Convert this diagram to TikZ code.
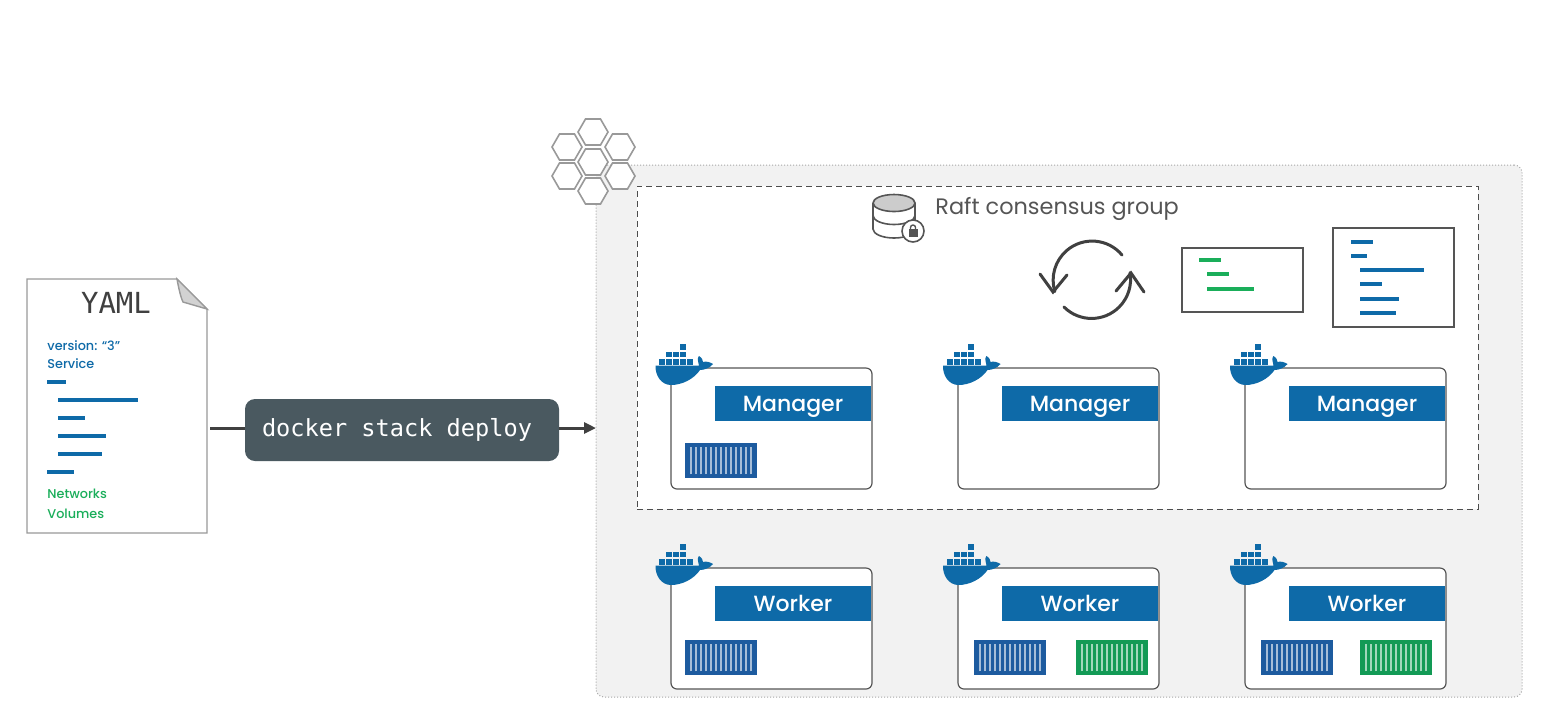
\documentclass[tikz,border=0pt]{standalone}
\usepackage{fontspec}
\setmainfont{Poppins}
\setmonofont{DejaVu Sans Mono}
\newfontfamily\medfont{Poppins Medium}
\usepackage{xcolor}
\usetikzlibrary{arrows.meta, calc, positioning, shapes.geometric}

\definecolor{dockerblue}{HTML}{0E6AA8}
\definecolor{contblue}{HTML}{1D5B9F}
\definecolor{contgreen}{HTML}{129A55}
\definecolor{notegreen}{HTML}{1AAE5A}
\definecolor{slate}{HTML}{4A5960}
\definecolor{inkgray}{HTML}{555555}

\tikzset{
    hostbox/.style = {draw=inkgray, line width=0.6pt, fill=white, rounded corners=3pt,
                      minimum width=100.5pt, minimum height=60.5pt, inner sep=0pt, outer sep=0pt},
    banner/.style = {fill=dockerblue, text=white, font=\medfont\fontsize{11}{13}\selectfont,
                     text height=7.5pt, text depth=0pt,
                     minimum width=78pt, minimum height=17.5pt, inner sep=0pt, outer sep=0pt},
    crate/.style = {fill=#1, minimum width=36pt, minimum height=17.5pt, inner sep=0pt, outer sep=0pt,
                    path picture={
                        \foreach \i in {0,...,12}
                        \draw [#1!40!white, line width=0.85pt]
                        ($(path picture bounding box.south west)+(3pt+2.5pt*\i,1.8pt)$) --
                        ($(path picture bounding box.north west)+(3pt+2.5pt*\i,-1.8pt)$);
                    }},
    notebox/.style = {draw=inkgray, line width=0.6pt, fill=white, inner sep=0pt, outer sep=0pt},
    hive/.style = {regular polygon, regular polygon sides=6, draw=gray!80, line width=0.8pt, fill=white,
                   minimum size=15pt, inner sep=0pt, outer sep=0pt},
    codeline/.style = {line width=1.7pt, #1},
    doctext/.style = {anchor=base west, inner sep=0pt, font=\medfont\fontsize{6.4}{7}\selectfont, text=#1},
    whale/.pic = {
        \fill [dockerblue] (-0.5,0.5) -- (43,0.5) .. controls (42,-4) and (41,-7) .. (43,-9)
            .. controls (46,-7) and (47,-5) .. (47,-3) .. controls (50,-4) and (54,-3) .. (57,-1)
            .. controls (54,3) and (48,5) .. (44,5) .. controls (38,14) and (26,20) .. (15,20)
            .. controls (5,20) and (-1,10) .. (-0.5,0.5) -- cycle;
        \foreach \bx/\by in {3/-6,10/-6,17/-6,24/-6,31/-6,10/-13.5,17/-13.5,24/-13.5,24/-21}
        \fill [dockerblue] (\bx,\by) rectangle ++(6,5.6);
    },
}

\begin{document}
\begin{tikzpicture}[x=0.5pt, y=-0.5pt,
    node distance = 39.5pt and 43pt,
    every node/.append style = {align=center},
                            ]
    \useasboundingbox (0,0) rectangle (1551,725);

    % swarm panel
    \node (cluster) [anchor=north west, draw=gray!70, densely dotted, line width=0.5pt, fill=black!5,
                     rounded corners=4pt, minimum width=463pt, minimum height=266pt, inner sep=0pt,
                     outer sep=0pt] at (596,165) {};
    \node (raft) [anchor=north west, draw=black!70, densely dashed, line width=0.5pt, fill=white,
                  minimum width=420.5pt, minimum height=161.5pt, inner sep=0pt, outer sep=0pt] at (637,186) {};

    % hexagons
    \node (h1) [hive] at (593,132) {};
    \node (h2) [hive] at (567,147) {};
    \node (h3) [hive] at (620,147) {};
    \node (h4) [hive] at (567,176) {};
    \node (h5) [hive] at (620,176) {};
    \node (h6) [hive] at (593,191) {};
    \node (h7) [hive] at (593,162) {};

    % yaml page
    \node (yaml) [anchor=north west, minimum width=90pt, minimum height=127pt, inner sep=0pt,
                  outer sep=1.5pt] at (24,277.5) {};
    \draw [gray!80, line width=0.7pt, fill=white] (27,279) -- (177,279) -- (207,309) -- (207,533) -- (27,533) -- cycle;
    \draw [gray!80, line width=0.7pt, fill=gray!35] (177,279) .. controls (179,290) and (181,298) .. (183,302) -- (207,309) -- cycle;
    \node (yamltitle) [text=black!75, font=\ttfamily\fontsize{14.5}{16}\selectfont, inner sep=0pt] at (116,303) {YAML};
    \node (version) [doctext=dockerblue] at (47,350) {version: “3”};
    \node (service) [doctext=dockerblue] at (47,368) {Service};
    \node (networks) [doctext=notegreen] at (47,498) {Networks};
    \node (volumes) [doctext=notegreen] at (47,518) {Volumes};
    \draw [codeline=dockerblue] (47,382) -- (66,382);
    \draw [codeline=dockerblue] (58,400) -- (138,400);
    \draw [codeline=dockerblue] (58,418) -- (85,418);
    \draw [codeline=dockerblue] (58,436) -- (106,436);
    \draw [codeline=dockerblue] (58,454) -- (102,454);
    \draw [codeline=dockerblue] (47,472) -- (74,472);

    % deploy command
    \node (deploy) [anchor=north west, fill=slate, rounded corners=5pt, text=white, minimum width=157pt,
                    minimum height=31pt, inner sep=0pt, outer sep=0pt,
                    font=\ttfamily\fontsize{11.8}{14}\selectfont] at (245,399) {docker stack deploy\hspace{5pt}};
    \draw [line width=1.5pt, draw=black!75] ([yshift=1pt]yaml.east |- deploy.west) -- ([yshift=1pt]deploy.west);
    \draw [line width=1.5pt, draw=black!75, -{Triangle[length=6pt, width=5.5pt]}] ([yshift=1pt]deploy.east) -- ([yshift=1pt]deploy.east -| cluster.west);

    % raft heading
    \fill [gray!40] (894,203) ellipse [x radius=21, y radius=8.5];
    \draw [inkgray, line width=0.8pt] (894,203) ellipse [x radius=21, y radius=8.5];
    \draw [inkgray, line width=0.8pt] (873,203) -- (873,229) arc [start angle=180, end angle=0, x radius=21, y radius=9] -- (915,203);
    \draw [inkgray, line width=0.8pt] (873,215.5) arc [start angle=180, end angle=0, x radius=21, y radius=9];
    \node (lock) [circle, draw=inkgray, fill=white, line width=0.8pt, minimum size=11pt, inner sep=0pt] at (913,231) {};
    \fill [inkgray] (908.5,229) rectangle (917.5,237);
    \draw [inkgray, line width=0.7pt] (910.5,229) -- (910.5,227.5) arc [start angle=180, end angle=360, radius=2.5] -- (915.5,229);
    \node (rafttext) [anchor=west, text=inkgray, inner sep=0pt, font=\fontsize{11.2}{13}\selectfont] at (935,209) {Raft consensus group};

    % sync arrows
    \draw [black!75, line width=1.5pt, line cap=round] (1122,255) arc [start angle=-40, end angle=-197, radius=39];
    \draw [black!75, line width=1.5pt, line cap=round] (1040,274) -- (1053,292) -- (1067,275);
    \draw [black!75, line width=1.5pt, line cap=round] (1064,307) arc [start angle=-225, end angle=-370, radius=39];
    \draw [black!75, line width=1.5pt, line cap=round] (1116,291) -- (1131,273) -- (1144,292);

    % note boxes
    \node (notegreen) [notebox, anchor=north west, minimum width=60.5pt, minimum height=32pt] at (1182,248) {};
    \draw [codeline=notegreen] (1199,260) -- (1221,260);
    \draw [codeline=notegreen] (1207,274) -- (1229,274);
    \draw [codeline=notegreen] (1207,289) -- (1254,289);
    \node (noteblue) [notebox, anchor=north west, minimum width=60.5pt, minimum height=49.5pt] at (1333,228) {};
    \draw [codeline=dockerblue] (1351,242) -- (1373,242);
    \draw [codeline=dockerblue] (1351,256) -- (1367,256);
    \draw [codeline=dockerblue] (1360,270) -- (1424,270);
    \draw [codeline=dockerblue] (1360,284) -- (1382,284);
    \draw [codeline=dockerblue] (1360,299) -- (1399,299);
    \draw [codeline=dockerblue] (1360,313) -- (1396,313);

    % hosts
    \node (m1) [hostbox, anchor=north west] at (671,368) {};
    \node (m2) [hostbox, right=of m1] {};
    \node (m3) [hostbox, right=of m2] {};
    \node (w1) [hostbox, below=of m1] {};
    \node (w2) [hostbox, below=of m2] {};
    \node (w3) [hostbox, below=of m3] {};

    \node (b1) [banner, below left=9pt and 0.5pt of m1.north east] {Manager};
    \node (b2) [banner, below left=9pt and 0.5pt of m2.north east] {Manager};
    \node (b3) [banner, below left=9pt and 0.5pt of m3.north east] {Manager};
    \node (b4) [banner, below left=9pt and 0.5pt of w1.north east] {Worker};
    \node (b5) [banner, below left=9pt and 0.5pt of w2.north east] {Worker};
    \node (b6) [banner, below left=9pt and 0.5pt of w3.north east] {Worker};

    \pic [shift={(-15,-3)}] at (m1.north west) {whale};
    \pic [shift={(-14.5,-3)}] at (m2.north west) {whale};
    \pic [shift={(-14.5,-3)}] at (m3.north west) {whale};
    \pic [shift={(-15,-3)}] at (w1.north west) {whale};
    \pic [shift={(-14.5,-3)}] at (w2.north west) {whale};
    \pic [shift={(-14.5,-3)}] at (w3.north west) {whale};

    % containers
    \node (c1) [crate=contblue, above right=5.5pt and 7pt of m1.south west] {};
    \node (c2) [crate=contblue, above right=7pt and 7pt of w1.south west] {};
    \node (c3) [crate=contblue, above right=7pt and 8pt of w2.south west] {};
    \node (c4) [crate=contgreen, above right=7pt and 59pt of w2.south west] {};
    \node (c5) [crate=contblue, above right=7pt and 8pt of w3.south west] {};
    \node (c6) [crate=contgreen, above right=7pt and 57.5pt of w3.south west] {};
\end{tikzpicture}
\end{document}
